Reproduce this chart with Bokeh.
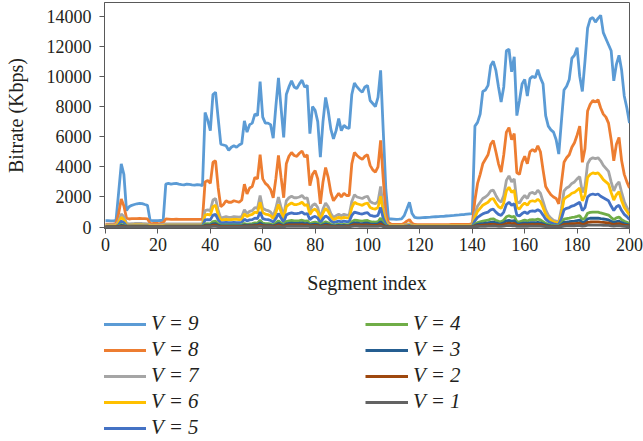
from bokeh.plotting import figure
from bokeh.models import Range1d, Legend, LegendItem, FixedTicker
from bokeh.layouts import column
from bokeh.embed import file_html
from bokeh.resources import INLINE

segments = list(range(201))

v9 = [430, 430, 420, 420, 450, 2300, 4200, 3500, 1100, 1350,
      1450, 1500, 1550, 1580, 1560, 1500, 1450, 450, 430, 430,
      430, 440, 450, 2850, 2900, 2850, 2880, 2900, 2850, 2820,
      2800, 2850, 2830, 2800, 2780, 2820, 2800, 2750, 7600, 7100,
      6400, 8800, 8950, 7200, 5500, 5450, 5400, 5100, 5300, 5400,
      5300, 5450, 5550, 7050, 6300, 6800, 6900, 7500, 7400, 9650,
      7300, 6900, 6900, 6800, 5900, 8000, 9900, 7900, 5950, 8800,
      9300, 9700, 9300, 9200, 9500, 9750, 9300, 9400, 6200, 8000,
      7750, 7000, 4650, 7000, 8600, 7700, 6500, 5850, 6400, 7200,
      6400, 6750, 6600, 6550, 8800, 9550, 9300, 9100, 8950, 9300,
      9400, 8400, 8200, 8000, 8600, 10400, 6400, 2500, 550, 540,
      530, 520, 530, 550, 760, 1200, 1650, 900, 650, 620,
      620, 630, 640, 650, 660, 680, 690, 700, 710, 720,
      740, 750, 770, 780, 800, 810, 830, 840, 860, 880,
      900, 6700, 6950, 7500, 9000, 9100, 9400, 10700, 11000, 10400,
      9300, 8300, 9300, 11700, 11800, 10300, 11300, 7400, 8400, 9500,
      9800, 8700, 9850, 10000, 9900, 10450, 9900, 9500, 7400, 6700,
      6450, 6300, 5800, 4850, 7000, 9100, 9350, 9800, 11200, 11400,
      11900, 10000, 9000, 11000, 13200, 13800, 13900, 13600, 13850, 14050,
      12900, 12500, 12100, 11700, 9700, 10800, 11400, 10400, 8700, 7900,
      6900]

v8 = [200, 200, 200, 200, 250, 900, 1870, 1400, 600, 540,
      560, 570, 570, 580, 570, 560, 550, 250, 240, 240,
      240, 250, 300, 540, 530, 520, 520, 530, 520, 510,
      520, 520, 510, 520, 510, 520, 510, 520, 3000, 3100,
      2900, 4300, 4400, 2600, 1350, 1500, 1750, 1650, 1650, 1750,
      1700, 1650, 1800, 2850, 2200, 2600, 2700, 3300, 3200, 4800,
      3200, 2900, 2750, 2500, 1950, 3200, 4750, 3300, 1950, 4200,
      4700, 4950, 4750, 4700, 4900, 5050, 4650, 4800, 2750, 3500,
      3750, 3200, 1550, 3000, 3950, 3300, 2300, 1750, 2000, 2250,
      2000, 2250, 2100, 2100, 4200, 4950, 4750, 4600, 4500, 4700,
      4800, 4100, 3800, 3650, 4000, 5750, 3200, 900, 320, 200,
      180, 180, 180, 180, 250, 400, 500, 250, 180, 170,
      170, 170, 170, 170, 170, 170, 170, 170, 170, 170,
      170, 170, 180, 180, 180, 180, 190, 190, 190, 190,
      250, 1800, 2900, 3500, 4200, 4500, 4800, 5500, 5750, 5000,
      4200, 3650, 4800, 6300, 6600, 5800, 6200, 3600, 3500, 4300,
      4700, 4200, 5000, 5150, 5000, 5400, 5000, 3800, 2700, 2400,
      2150, 2000, 1900, 1550, 2900, 4300, 4600, 4800, 5300, 5600,
      6100, 6700, 4300, 5200, 7700, 8150, 8400, 8300, 8450, 7900,
      7500, 7300, 6900, 5800, 4400, 5500, 5950, 4400, 3500, 3000,
      2600]

v7 = [150, 150, 150, 150, 170, 400, 880, 700, 250, 220,
      230, 240, 240, 240, 240, 230, 220, 150, 140, 140,
      140, 150, 160, 220, 220, 210, 210, 220, 210, 210,
      210, 210, 210, 210, 210, 210, 210, 210, 1100, 1150,
      1100, 1800, 1900, 1100, 600, 650, 700, 650, 650, 700,
      680, 660, 700, 1150, 900, 1050, 1100, 1300, 1250, 2100,
      1250, 1150, 1100, 1000, 750, 1250, 2000, 1300, 750, 1750,
      1950, 2050, 1950, 1950, 2000, 2100, 1900, 1950, 1100, 1450,
      1550, 1300, 600, 1200, 1600, 1350, 900, 650, 750, 850,
      750, 850, 800, 800, 1700, 2150, 2000, 1950, 1900, 2000,
      2050, 1700, 1600, 1550, 1700, 2700, 1300, 400, 150, 120,
      110, 110, 110, 110, 130, 180, 220, 130, 110, 100,
      100, 100, 100, 100, 100, 100, 100, 100, 100, 100,
      100, 100, 100, 100, 100, 100, 100, 100, 100, 100,
      150, 900, 1400, 1650, 1900, 2000, 2150, 2400, 2450, 2100,
      1800, 1650, 2100, 3100, 3400, 3000, 3200, 1700, 1600, 1900,
      2100, 1900, 2250, 2300, 2200, 2450, 2250, 1700, 1150, 800,
      600, 450, 400, 350, 1200, 2400, 2600, 2700, 2900, 3000,
      3200, 3350, 2300, 2700, 4200, 4500, 4600, 4550, 4600, 4400,
      4100, 3900, 3700, 3000, 2400, 2800, 3000, 2300, 1700, 1300,
      1000]

v6 = [80, 80, 80, 80, 100, 300, 650, 500, 150, 130,
      140, 150, 150, 150, 150, 140, 140, 80, 80, 80,
      80, 90, 100, 140, 140, 130, 130, 140, 130, 130,
      130, 130, 130, 130, 130, 130, 130, 130, 800, 850,
      800, 1350, 1450, 800, 450, 500, 520, 500, 500, 520,
      510, 500, 520, 880, 700, 800, 850, 1000, 950, 1650,
      950, 870, 830, 760, 560, 950, 1500, 1000, 560, 1350,
      1500, 1600, 1500, 1500, 1550, 1650, 1450, 1500, 850, 1100,
      1200, 1000, 460, 930, 1250, 1050, 700, 500, 580, 650,
      580, 650, 620, 620, 1300, 1650, 1550, 1500, 1450, 1550,
      1600, 1300, 1230, 1200, 1300, 2050, 950, 300, 110, 90,
      80, 80, 80, 80, 100, 140, 170, 100, 80, 80,
      80, 80, 80, 80, 80, 80, 80, 80, 80, 80,
      80, 80, 80, 80, 80, 80, 80, 80, 80, 80,
      100, 650, 1050, 1250, 1450, 1550, 1650, 1850, 1900, 1600,
      1350, 1250, 1600, 2400, 2650, 2300, 2450, 1300, 1200, 1450,
      1600, 1450, 1700, 1750, 1700, 1850, 1700, 1300, 850, 600,
      450, 350, 300, 270, 900, 1850, 2000, 2100, 2250, 2300,
      2450, 2600, 1750, 2100, 3300, 3500, 3600, 3550, 3600, 3400,
      3150, 3000, 2850, 2300, 1800, 2150, 2350, 1750, 1300, 1050,
      800]

v5 = [40, 40, 40, 40, 50, 150, 400, 300, 90, 80,
      85, 90, 90, 90, 90, 85, 85, 40, 40, 40,
      40, 45, 50, 85, 85, 80, 80, 85, 80, 80,
      80, 80, 80, 80, 80, 80, 80, 80, 480, 500,
      480, 800, 850, 480, 280, 300, 310, 300, 300, 310,
      300, 300, 310, 520, 420, 480, 500, 600, 570, 1000,
      570, 520, 500, 450, 330, 570, 900, 600, 330, 800,
      900, 950, 900, 900, 930, 1000, 870, 900, 500, 650,
      720, 600, 280, 560, 750, 630, 420, 300, 350, 400,
      350, 400, 370, 370, 780, 1000, 950, 900, 870, 930,
      960, 780, 740, 720, 780, 1300, 580, 180, 60, 50,
      50, 50, 50, 50, 60, 90, 110, 60, 50, 50,
      50, 50, 50, 50, 50, 50, 50, 50, 50, 50,
      50, 50, 50, 50, 50, 50, 50, 50, 50, 50,
      60, 420, 650, 770, 880, 950, 1000, 1150, 1200, 1000,
      850, 780, 1000, 1500, 1650, 1450, 1550, 800, 750, 900,
      1000, 900, 1050, 1080, 1050, 1150, 1050, 800, 530, 380,
      280, 220, 190, 170, 560, 1150, 1250, 1300, 1400, 1450,
      1550, 1650, 1100, 1300, 2000, 2150, 2200, 2150, 2200, 2050,
      1950, 1850, 1750, 1400, 1100, 1350, 1450, 1100, 850, 700,
      500]

v4 = [20, 20, 20, 20, 25, 70, 180, 140, 40, 35,
      40, 40, 40, 40, 40, 40, 40, 20, 20, 20,
      20, 20, 20, 40, 40, 40, 40, 40, 40, 40,
      40, 40, 40, 40, 40, 40, 40, 40, 220, 230,
      220, 370, 390, 220, 130, 140, 145, 140, 140, 145,
      140, 140, 145, 240, 190, 220, 230, 280, 265, 460,
      265, 240, 230, 210, 150, 265, 420, 280, 150, 370,
      420, 440, 420, 420, 430, 460, 400, 420, 230, 300,
      330, 280, 130, 260, 350, 290, 190, 140, 160, 185,
      160, 185, 170, 170, 360, 460, 440, 420, 400, 430,
      440, 360, 340, 330, 360, 600, 260, 80, 30, 25,
      25, 25, 25, 25, 30, 40, 50, 30, 25, 25,
      25, 25, 25, 25, 25, 25, 25, 25, 25, 25,
      25, 25, 25, 25, 25, 25, 25, 25, 25, 25,
      30, 190, 300, 350, 400, 430, 460, 530, 550, 460,
      390, 360, 460, 690, 760, 670, 710, 370, 350, 410,
      460, 410, 480, 500, 480, 530, 480, 370, 250, 180,
      130, 100, 90, 80, 260, 530, 570, 600, 640, 670,
      710, 760, 500, 600, 920, 980, 1000, 990, 1000, 940,
      900, 850, 800, 640, 500, 620, 670, 500, 390, 320,
      230]

v3 = [15, 15, 15, 15, 18, 45, 110, 85, 25, 22,
      25, 25, 25, 25, 25, 25, 25, 15, 15, 15,
      15, 15, 15, 25, 25, 25, 25, 25, 25, 25,
      25, 25, 25, 25, 25, 25, 25, 25, 130, 140,
      130, 220, 235, 130, 80, 85, 88, 85, 85, 88,
      85, 85, 88, 145, 115, 130, 140, 170, 160, 280,
      160, 145, 140, 125, 90, 160, 250, 170, 90, 220,
      250, 265, 250, 250, 260, 280, 240, 250, 140, 180,
      200, 170, 80, 155, 210, 175, 115, 85, 95, 110,
      95, 110, 100, 100, 215, 280, 265, 250, 240, 260,
      265, 215, 205, 200, 215, 360, 160, 50, 20, 15,
      15, 15, 15, 15, 18, 25, 30, 18, 15, 15,
      15, 15, 15, 15, 15, 15, 15, 15, 15, 15,
      15, 15, 15, 15, 15, 15, 15, 15, 15, 15,
      20, 115, 180, 210, 240, 260, 280, 320, 330, 280,
      235, 215, 280, 410, 450, 400, 425, 220, 210, 250,
      280, 250, 290, 300, 290, 320, 290, 220, 150, 110,
      80, 60, 55, 50, 160, 320, 340, 360, 385, 400,
      430, 460, 300, 360, 550, 590, 600, 590, 600, 560,
      540, 510, 480, 385, 300, 370, 400, 300, 235, 190,
      140]

v2 = [8, 8, 8, 8, 10, 25, 60, 45, 12, 10,
      12, 12, 12, 12, 12, 12, 12, 8, 8, 8,
      8, 8, 8, 12, 12, 12, 12, 12, 12, 12,
      12, 12, 12, 12, 12, 12, 12, 12, 75, 80,
      75, 130, 135, 75, 45, 50, 50, 50, 50, 50,
      50, 50, 50, 85, 65, 75, 80, 100, 95, 160,
      95, 85, 80, 75, 55, 95, 150, 100, 55, 130,
      150, 155, 150, 150, 150, 160, 140, 150, 80, 105,
      115, 100, 45, 90, 120, 100, 65, 50, 55, 65,
      55, 65, 60, 60, 125, 160, 155, 150, 140, 150,
      155, 125, 120, 115, 125, 210, 95, 30, 10, 8,
      8, 8, 8, 8, 10, 14, 16, 10, 8, 8,
      8, 8, 8, 8, 8, 8, 8, 8, 8, 8,
      8, 8, 8, 8, 8, 8, 8, 8, 8, 8,
      10, 65, 105, 120, 140, 150, 160, 185, 190, 160,
      135, 125, 160, 240, 265, 235, 250, 130, 120, 145,
      160, 145, 170, 175, 170, 185, 170, 130, 90, 65,
      45, 35, 30, 30, 90, 185, 200, 210, 225, 235,
      250, 265, 175, 210, 320, 340, 350, 345, 350, 330,
      315, 300, 280, 225, 175, 215, 235, 175, 135, 110,
      80]

v1 = [3, 3, 3, 3, 4, 10, 25, 18, 5, 4,
      5, 5, 5, 5, 5, 5, 5, 3, 3, 3,
      3, 3, 3, 5, 5, 5, 5, 5, 5, 5,
      5, 5, 5, 5, 5, 5, 5, 5, 30, 32,
      30, 50, 55, 30, 18, 20, 20, 20, 20, 20,
      20, 20, 20, 35, 26, 30, 32, 40, 38, 65,
      38, 35, 32, 30, 22, 38, 60, 40, 22, 52,
      60, 62, 60, 60, 60, 65, 56, 60, 32, 42,
      46, 40, 18, 36, 48, 40, 26, 20, 22, 26,
      22, 26, 24, 24, 50, 65, 62, 60, 56, 60,
      62, 50, 48, 46, 50, 85, 38, 12, 4, 3,
      3, 3, 3, 3, 4, 6, 7, 4, 3, 3,
      3, 3, 3, 3, 3, 3, 3, 3, 3, 3,
      3, 3, 3, 3, 3, 3, 3, 3, 3, 3,
      4, 26, 42, 48, 56, 60, 64, 74, 76, 64,
      54, 50, 64, 96, 106, 94, 100, 52, 48, 58,
      64, 58, 68, 70, 68, 74, 68, 52, 36, 26,
      18, 14, 12, 12, 36, 74, 80, 84, 90, 94,
      100, 106, 70, 84, 128, 136, 140, 138, 140, 132,
      126, 120, 112, 90, 70, 86, 94, 70, 54, 44,
      32]

series_labels = ["V = 9", "V = 8", "V = 7", "V = 6", "V = 5",
                 "V = 4", "V = 3", "V = 2", "V = 1"]
series_values = [v9, v8, v7, v6, v5, v4, v3, v2, v1]
series_colors = ["#5B9BD5", "#ED7D31", "#A5A5A5", "#FFC000", "#4472C4",
                 "#70AD47", "#255E91", "#9E480E", "#636363"]

x_ticks = [0, 20, 40, 60, 80, 100, 120, 140, 160, 180, 200]
y_ticks = [0, 2000, 4000, 6000, 8000, 10000, 12000, 14000]

for vals in series_values:
    assert len(vals) == len(segments)

FONT = "Liberation Serif"
AX = "#595959"
TXT = "#231F20"

# ---- main chart ----
p = figure(width=643, height=296, output_backend="svg", toolbar_location=None,
           x_range=Range1d(-0.4, 200), y_range=Range1d(-90, 14900),
           min_border_left=104, min_border_right=14, min_border_top=2,
           min_border_bottom=68)
p.xgrid.visible = False
p.ygrid.visible = False
p.outline_line_color = AX
p.outline_line_width = 1

for lab, vals, col in zip(series_labels, series_values, series_colors):
    p.line(segments, vals, line_color=col, line_width=2.8)

for ax in (p.xaxis[0], p.yaxis[0]):
    ax.axis_line_color = AX
    ax.major_tick_line_color = AX
    ax.major_tick_out = 5
    ax.major_tick_in = 0
    ax.minor_tick_line_color = None
    ax.major_label_text_font = FONT
    ax.major_label_text_font_size = "18px"
    ax.major_label_text_color = TXT
    ax.axis_label_text_font = FONT
    ax.axis_label_text_font_size = "20px"
    ax.axis_label_text_font_style = "normal"
    ax.axis_label_text_color = TXT

p.xaxis.ticker = FixedTicker(ticks=x_ticks)
p.yaxis.ticker = FixedTicker(ticks=y_ticks)
p.xaxis.axis_label = "Segment index"
p.yaxis.axis_label = "Bitrate (Kbps)"
p.xaxis.major_label_standoff = 4
p.xaxis.axis_label_standoff = 18
p.yaxis.major_label_standoff = 8
p.yaxis.axis_label_standoff = 17

# ---- legend strip below the chart ----
q = figure(width=643, height=145, output_backend="svg", toolbar_location=None,
           x_range=Range1d(-0.4, 200), y_range=Range1d(-90, 14900),
           x_axis_location=None, y_axis_location=None,
           min_border_left=0, min_border_right=0, min_border_top=0,
           min_border_bottom=0)
q.xgrid.visible = False
q.ygrid.visible = False
q.outline_line_color = None

items = []
for lab, vals, col in zip(series_labels, series_values, series_colors):
    r = q.line(segments, vals, line_color=col, line_width=2.8, visible=False)
    items.append(LegendItem(label=lab, renderers=[r]))

legend = Legend(items=items, location=(-1, 1), orientation="vertical",
                nrows=5, ncols=2,
                label_text_font=FONT, label_text_font_size="21px",
                label_text_font_style="italic", label_text_color=TXT,
                glyph_width=43, glyph_height=20, label_height=20,
                label_width=213, label_standoff=5, spacing=1,
                padding=2, margin=0, border_line_color=None,
                background_fill_alpha=0, inactive_fill_alpha=0)
q.add_layout(legend, "center")

layout = column(p, q, spacing=0)
open("out.html", "w").write(file_html(layout, INLINE))
